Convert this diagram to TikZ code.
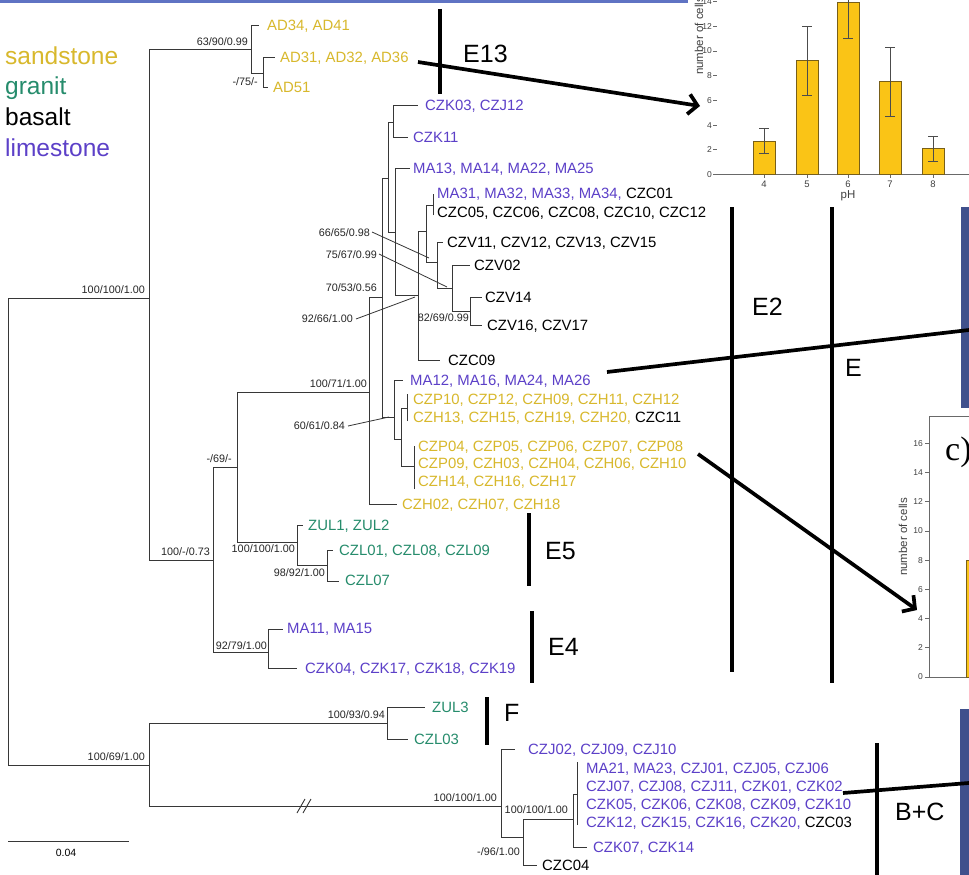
\documentclass[tikz,border=0pt]{standalone}
\usepackage{fontspec}
\setmainfont{Liberation Sans}
\newfontfamily\serifc{Liberation Serif}
\usetikzlibrary{arrows.meta}
\definecolor{sand}{RGB}{216,184,44}
\definecolor{gran}{RGB}{38,140,108}
\definecolor{lime}{RGB}{92,64,200}
\definecolor{treeg}{RGB}{55,55,55}
\definecolor{slate}{RGB}{64,80,140}
\definecolor{topblue}{RGB}{95,115,195}
\definecolor{barfill}{RGB}{250,196,22}
\definecolor{baredge}{RGB}{120,95,25}
\definecolor{axisg}{RGB}{105,105,105}
\tikzset{
  br/.style={draw=treeg, line width=0.9pt},
  ptr/.style={draw=treeg, line width=0.8pt},
  tx/.style={anchor=west, inner sep=0pt, font=\fontsize{14.9}{18}\selectfont, text height=10.7pt, text depth=0pt},
  sp/.style={anchor=east, inner sep=0pt, font=\fontsize{10.8}{12}\selectfont, text height=7.7pt, text depth=0pt, text=black!85},
  big/.style={anchor=west, inner sep=0pt, font=\fontsize{25}{28}\selectfont, text height=17.9pt, text depth=0pt},
  lg/.style={anchor=base west, inner sep=0pt, font=\fontsize{24.5}{28}\selectfont},
  thk/.style={line width=3.7pt, black},
  arr/.style={line width=3.7pt, black, -{Straight Barb[length=9pt,width=20pt,line width=3.7pt]}},
  tick/.style={anchor=east, inner sep=0pt, font=\fontsize{8.5}{10}\selectfont, text=black!75},
  xtick/.style={inner sep=0pt, font=\fontsize{9.5}{10}\selectfont, text=black!75},
  axl/.style={inner sep=0pt, font=\fontsize{11.5}{12}\selectfont, text=black!75},
  bar/.style={fill=barfill, draw=baredge, line width=0.8pt},
  eb/.style={draw=black!70, line width=0.8pt},
  ax/.style={draw=axisg, line width=0.8pt}
}
\begin{document}
\begin{tikzpicture}[x=1pt,y=-1pt]
\useasboundingbox (0,0) rectangle (969,875);
\clip (0,0) rectangle (969,875);
\fill[white] (0,0) rectangle (969,875);
% top strip and side bars
\fill[topblue] (0,0) rectangle (688,3);
\fill[slate] (961,207) rectangle (969,408);
\fill[slate] (960,709) rectangle (969,875);

% legend
\node[lg,text=sand] (legS) at (5,65) {sandstone};
\node[lg,text=gran] (legG) at (5,95) {granit};
\node[lg,text=black] (legB) at (5,125) {basalt};
\node[lg,text=lime] (legL) at (5,156) {limestone};

% ---------- tree coordinates ----------
\coordinate (root) at (8,531);
\coordinate (n1) at (149,298);
\coordinate (n2) at (149,765);
\coordinate (nAD) at (251,49);
\coordinate (nAD2) at (263,73);
\coordinate (tAD34) at (259,25);
\coordinate (tAD31) at (275,57);
\coordinate (tAD51) at (268,87);
\coordinate (nX) at (213,560);
\coordinate (nY) at (237,467);
\coordinate (nR) at (369,392);
\coordinate (nP) at (382,297);
\coordinate (nS) at (388,178);
\coordinate (nK) at (393,122);
\coordinate (tCZK03) at (418,105);
\coordinate (tCZK11) at (408,137);
\coordinate (nT) at (395,232);
\coordinate (tMA13) at (410,168);
\coordinate (nV) at (418,295);
\coordinate (nW) at (426,231);
\coordinate (gMA31) at (433,205);
\coordinate (nX1) at (437,262);
\coordinate (tCZV11) at (443,242);
\coordinate (nX2) at (452,288);
\coordinate (tCZV02) at (470,265);
\coordinate (nX3) at (470,311);
\coordinate (tCZV14) at (482,297);
\coordinate (tCZV16) at (482,325);
\coordinate (tCZC09) at (440,360);
\coordinate (nQ) at (394,417);
\coordinate (tMA12) at (403,380);
\coordinate (nQ2) at (401,439);
\coordinate (gCZP10) at (407,408);
\coordinate (gCZP04) at (414,466);
\coordinate (tCZH02) at (397,504);
\coordinate (nE5) at (297,542);
\coordinate (tZUL1) at (303,525);
\coordinate (nCZL) at (327,565);
\coordinate (tCZL01) at (333,550);
\coordinate (tCZL07) at (339,581);
\coordinate (nE4) at (268,652);
\coordinate (tMA11) at (283,629);
\coordinate (tCZK04) at (297,668);
\coordinate (nF) at (387,723);
\coordinate (tZUL3) at (425,707);
\coordinate (tCZL03) at (408,739);
\coordinate (nBC) at (501,806);
\coordinate (tCZJ02) at (515,749);
\coordinate (nBC2) at (523,837);
\coordinate (nBC3) at (573,819);
\coordinate (gMA21) at (577,794);
\coordinate (tCZK07) at (587,847);
\coordinate (tCZC04) at (537,865);

% ---------- branches ----------
\draw[br] (root) |- (n1) (root) |- (n2);
\draw[br] (n1) |- (nAD) (n1) |- (nX);
\draw[br] (nAD) |- (tAD34) (nAD) |- (nAD2);
\draw[br] (nAD2) |- (tAD31) (nAD2) |- (tAD51);
\draw[br] (nX) |- (nY) (nX) |- (nE4);
\draw[br] (nY) |- (nR) (nY) |- (nE5);
\draw[br] (nR) |- (nP) (nR) |- (tCZH02);
\draw[br] (nP) |- (nS) (nP) |- (nQ);
\draw[br] (nS) |- (nK) (nS) |- (nT);
\draw[br] (nK) |- (tCZK03) (nK) |- (tCZK11);
\draw[br] (nT) |- (tMA13) (nT) |- (nV);
\draw[br] (nV) |- (nW) (nV) |- (tCZC09);
\draw[br] (nW) |- (gMA31) (nW) |- (nX1);
\draw[br] (nX1) |- (tCZV11) (nX1) |- (nX2);
\draw[br] (nX2) |- (tCZV02) (nX2) |- (nX3);
\draw[br] (nX3) |- (tCZV14) (nX3) |- (tCZV16);
\draw[br] (nQ) |- (tMA12) (nQ) |- (nQ2);
\draw[br] (nQ2) |- (gCZP10) (nQ2) |- (gCZP04);
\draw[br] (nE5) |- (tZUL1) (nE5) |- (nCZL);
\draw[br] (nCZL) |- (tCZL01) (nCZL) |- (tCZL07);
\draw[br] (nE4) |- (tMA11) (nE4) |- (tCZK04);
\draw[br] (n2) |- (nF) (n2) |- (nBC);
\draw[br] (nF) |- (tZUL3) (nF) |- (tCZL03);
\draw[br] (nBC) |- (tCZJ02) (nBC) |- (nBC2);
\draw[br] (nBC2) |- (nBC3) (nBC2) |- (tCZC04);
\draw[br] (nBC3) |- (gMA21) (nBC3) |- (tCZK07);
% brackets of identical sequences
\draw[br] ([yshift=-10pt]gMA31) -- ([yshift=11pt]gMA31);
\draw[br] ([yshift=-13pt]gCZP10) -- ([yshift=14pt]gCZP10);
\draw[br] ([yshift=-23pt]gCZP04) -- ([yshift=20pt]gCZP04);
\draw[br] ([yshift=-31pt]gMA21) -- ([yshift=32pt]gMA21);
% break mark
\draw[br] (297,813) -- (305,799);
\draw[br] (303,813) -- (311,799);

% ---------- taxon labels ----------
\node[tx,text=sand] (lAD34) at (267,25) {AD34, AD41};
\node[tx,text=sand] (lAD31) at (280,57) {AD31, AD32, AD36};
\node[tx,text=sand] (lAD51) at (273,87) {AD51};
\node[tx,text=lime] (lCZK03) at (425,105) {CZK03, CZJ12};
\node[tx,text=lime] (lCZK11) at (413,137) {CZK11};
\node[tx,text=lime] (lMA13) at (413,168) {MA13, MA14, MA22, MA25};
\node[tx] (lMA31) at (437,193) {\textcolor{lime}{MA31, MA32, MA33, MA34,} CZC01};
\node[tx] (lCZC05) at (437,212) {CZC05, CZC06, CZC08, CZC10, CZC12};
\node[tx] (lCZV11) at (447,242) {CZV11, CZV12, CZV13, CZV15};
\node[tx] (lCZV02) at (474,265) {CZV02};
\node[tx] (lCZV14) at (485,297) {CZV14};
\node[tx] (lCZV16) at (487,325) {CZV16, CZV17};
\node[tx] (lCZC09) at (448,360) {CZC09};
\node[tx,text=lime] (lMA12) at (410,380) {MA12, MA16, MA24, MA26};
\node[tx,text=sand] (lCZP10) at (413,399) {CZP10, CZP12, CZH09, CZH11, CZH12};
\node[tx] (lCZH13) at (413,417) {\textcolor{sand}{CZH13, CZH15, CZH19, CZH20,} CZC11};
\node[tx,text=sand] (lCZP04) at (418,446) {CZP04, CZP05, CZP06, CZP07, CZP08};
\node[tx,text=sand] (lCZP09) at (418,463) {CZP09, CZH03, CZH04, CZH06, CZH10};
\node[tx,text=sand] (lCZH14) at (418,481) {CZH14, CZH16, CZH17};
\node[tx,text=sand] (lCZH02) at (402,504) {CZH02, CZH07, CZH18};
\node[tx,text=gran] (lZUL1) at (308,525) {ZUL1, ZUL2};
\node[tx,text=gran] (lCZL01) at (339,550) {CZL01, CZL08, CZL09};
\node[tx,text=gran] (lCZL07) at (345,580) {CZL07};
\node[tx,text=lime] (lMA11) at (287,628) {MA11, MA15};
\node[tx,text=lime] (lCZK04) at (305,668) {CZK04, CZK17, CZK18, CZK19};
\node[tx,text=gran] (lZUL3) at (432,707) {ZUL3};
\node[tx,text=gran] (lCZL03) at (414,739) {CZL03};
\node[tx,text=lime] (lCZJ02) at (528,749) {CZJ02, CZJ09, CZJ10};
\node[tx,text=lime] (lMA21) at (586,768) {MA21, MA23, CZJ01, CZJ05, CZJ06};
\node[tx,text=lime] (lCZJ07) at (586,786) {CZJ07, CZJ08, CZJ11, CZK01, CZK02};
\node[tx,text=lime] (lCZK05) at (586,804) {CZK05, CZK06, CZK08, CZK09, CZK10};
\node[tx] (lCZK12) at (586,822) {\textcolor{lime}{CZK12, CZK15, CZK16, CZK20,} CZC03};
\node[tx,text=lime] (lCZK07) at (593,847) {CZK07, CZK14};
\node[tx] (lCZC04) at (542,865) {CZC04};

% ---------- support values ----------
\node[sp] (s1) at (248,42) {63/90/0.99};
\node[sp] (s2) at (258,82) {-/75/-};
\node[sp] (s3) at (145,290) {100/100/1.00};
\node[sp] (s4) at (210,552) {100/-/0.73};
\node[sp] (s5) at (232,459) {-/69/-};
\node[sp] (s6) at (367,384) {100/71/1.00};
\node[sp] (s7) at (377,288) {70/53/0.56};
\node[sp] (s8) at (353,319) {92/66/1.00};
\node[sp] (s9) at (370,233) {66/65/0.98};
\node[sp] (s10) at (377,255) {75/67/0.99};
\node[sp] (s11) at (469,318) {82/69/0.99};
\node[sp] (s12) at (345,426) {60/61/0.84};
\node[sp] (s13) at (295,549) {100/100/1.00};
\node[sp] (s14) at (325,573) {98/92/1.00};
\node[sp] (s15) at (267,646) {92/79/1.00};
\node[sp] (s16) at (385,715) {100/93/0.94};
\node[sp] (s17) at (145,757) {100/69/1.00};
\node[sp] (s18) at (497,798) {100/100/1.00};
\node[sp] (s19) at (520,852) {-/96/1.00};
\node[sp] (s20) at (568,810) {100/100/1.00};
% pointer lines
\coordinate (pV) at (415,297);
\coordinate (pX1) at (429,258);
\coordinate (pX2) at (447,287);
\coordinate (pQ) at (389,417);
\draw[ptr] (s8.east) ++(3pt,0) -- (pV);
\draw[ptr] (s9.east) ++(2pt,1pt) -- (pX1);
\draw[ptr] (s10.east) ++(2pt,1pt) -- (pX2);
\draw[ptr] (s12.east) ++(3pt,0) -- (pQ);

% scale bar
\coordinate (sb1) at (8,841);
\coordinate (sb2) at (129,841);
\draw[br] (sb1) -- (sb2);
\node[inner sep=0pt, font=\fontsize{10.5}{12}\selectfont] (sbl) at (66,853) {0.04};

% ---------- chart a ----------
\draw[ax] (716,174.5) -- (969,174.5);
\foreach \v in {0,2,...,14}{
  \draw[ax] (713,{174.5-12.35*\v}) -- (717,{174.5-12.35*\v});
  \node[tick] at (712,{174.5-12.35*\v}) {\v};
}
\foreach \cx/\v/\lo/\hi/\lab in {764/2.7/1.7/3.7/4, 807/9.2/6.4/12/5, 848/13.9/11/16.8/6, 890/7.5/4.7/10.3/7, 933/2.1/1.1/3.1/8}{
  \draw[bar] ({\cx-11},{174.5-12.35*\v}) rectangle ({\cx+11},174.5);
  \draw[eb] (\cx,{174.5-12.35*\lo}) -- (\cx,{174.5-12.35*\hi});
  \draw[eb] ({\cx-5},{174.5-12.35*\lo}) -- ({\cx+5},{174.5-12.35*\lo});
  \draw[eb] ({\cx-5},{174.5-12.35*\hi}) -- ({\cx+5},{174.5-12.35*\hi});
  \draw[ax] (\cx,174.5) -- (\cx,177.5);
  \node[xtick] at (\cx,184) {\lab};
}
\node[axl] (aph) at (848,196) {pH};
\node[axl, rotate=90, anchor=west] (ayl) at (699,75) {number of cells};

% ---------- chart c ----------
\draw[ax] (969,416) -- (929,416) -- (929,677) -- (969,677);
\foreach \v in {0,2,...,16}{
  \draw[ax] (925,{677-14.6*\v}) -- (929,{677-14.6*\v});
  \node[tick] at (923,{677-14.6*\v}) {\v};
}
\draw[bar] (966,{677-14.6*8}) rectangle (985,677);
\node[axl, rotate=90] (cyl) at (903,537) {number of cells};
\node[anchor=west, inner sep=0pt, font=\serifc\fontsize{34}{36}\selectfont] (clab) at (945,452) {c)};

% ---------- clade bars and labels ----------
\coordinate (bE13a) at (440,9);   \coordinate (bE13b) at (440,94);
\coordinate (bE2a) at (732,207);  \coordinate (bE2b) at (732,672);
\coordinate (bEa) at (832,207);   \coordinate (bEb) at (832,683);
\coordinate (bE5a) at (529,513);  \coordinate (bE5b) at (529,586);
\coordinate (bE4a) at (532,611);  \coordinate (bE4b) at (532,683);
\coordinate (bFa) at (487,697);   \coordinate (bFb) at (487,745);
\coordinate (bBCa) at (877,743);  \coordinate (bBCb) at (877,878);
\draw[thk] (bE13a) -- (bE13b);
\draw[thk] (bE2a) -- (bE2b);
\draw[thk] (bEa) -- (bEb);
\draw[thk] (bE5a) -- (bE5b);
\draw[thk] (bE4a) -- (bE4b);
\draw[thk] (bFa) -- (bFb);
\draw[thk] (bBCa) -- (bBCb);
\node[big] (E13) at (463,54) {E13};
\node[big] (E2) at (752,307) {E2};
\node[big] (E) at (845,368) {E};
\node[big] (E5) at (545,551) {E5};
\node[big] (E4) at (548,647) {E4};
\node[big] (F) at (504,713) {F};
\node[big] (BC) at (895,812) {B+C};

% ---------- long connectors ----------
\coordinate (a1s) at (418,62);   \coordinate (a1e) at (700,106);
\coordinate (a2s) at (698,454);  \coordinate (a2e) at (917,610);
\coordinate (l1s) at (607,372);  \coordinate (l1e) at (975,329.3);
\coordinate (l2s) at (843,793);  \coordinate (l2e) at (975,782.5);
\draw[arr] (a1s) -- (a1e);
\draw[arr] (a2s) -- (a2e);
\draw[thk] (l1s) -- (l1e);
\draw[thk] (l2s) -- (l2e);
\end{tikzpicture}
\end{document}
